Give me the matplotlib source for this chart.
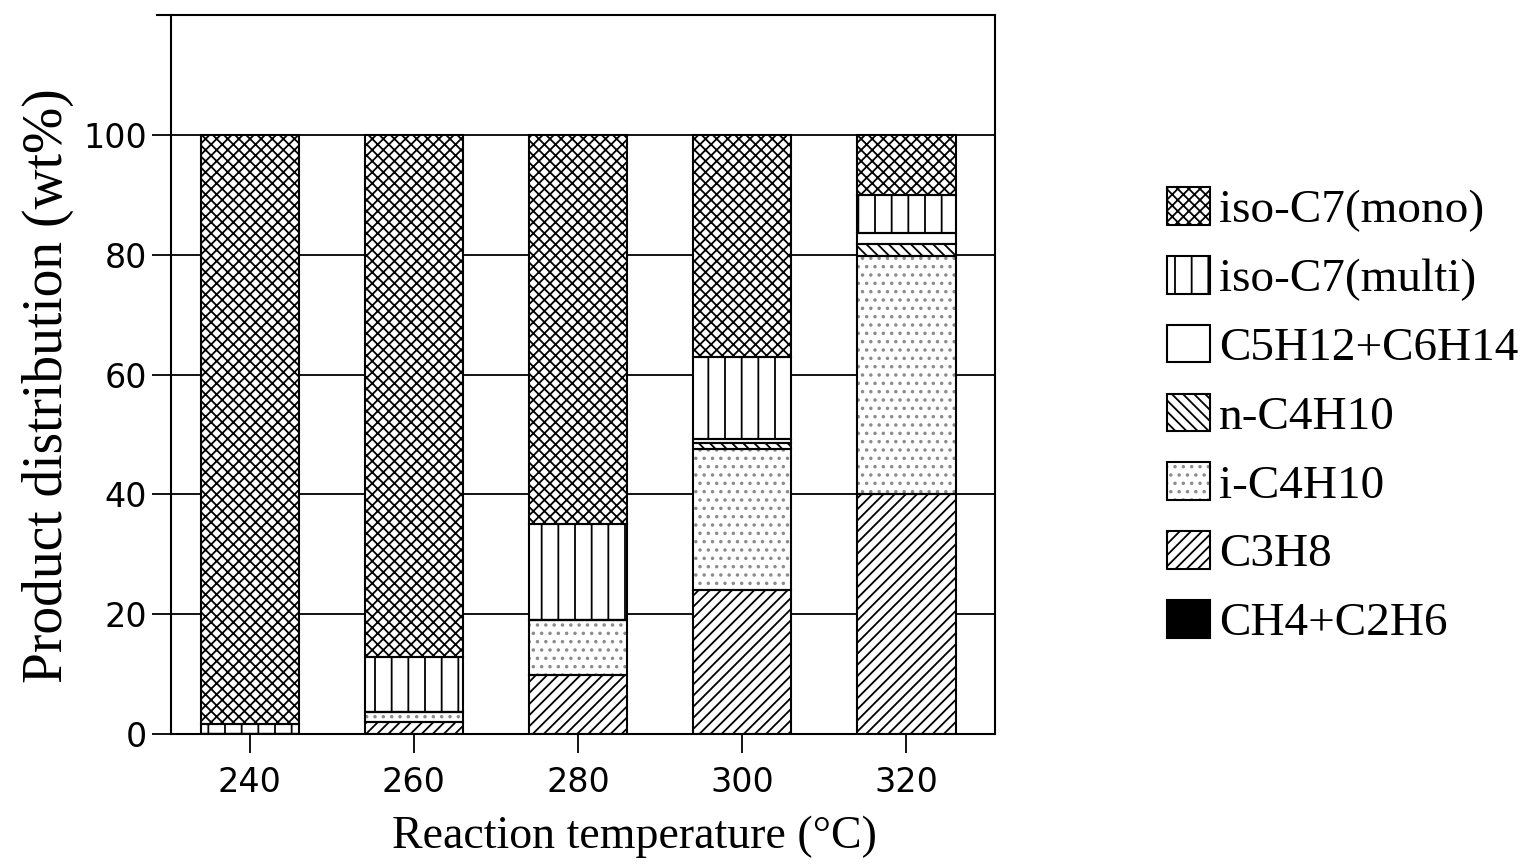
import numpy as np
import matplotlib
matplotlib.use("Agg")
import matplotlib.pyplot as plt
from matplotlib.lines import Line2D
from matplotlib.legend_handler import HandlerTuple

# data (wt%), bottom of stack first
temps = ["240", "260", "280", "300", "320"]
ch4_c2h6 = [0, 0, 0, 0, 0]
c3h8 = [0, 2.0, 9.8, 24.0, 40.0]
i_c4h10 = [0, 1.7, 9.2, 23.5, 39.8]
n_c4h10 = [0, 0, 0, 1.0, 2.0]
c5_c6 = [0, 0, 0, 0.7, 1.8]
iso_c7_multi = [1.6, 9.2, 16.0, 13.7, 6.3]
iso_c7_mono = [98.4, 87.1, 65.0, 37.1, 10.1]

# name, values, fill, hatch, hatch colour
series = [
    ("CH4+C2H6", ch4_c2h6, "black", "", "black"),
    ("C3H8", c3h8, "white", "///", "black"),
    ("i-C4H10", i_c4h10, "white", "..", "0.55"),
    ("n-C4H10", n_c4h10, "white", "\\\\\\", "black"),
    ("C5H12+C6H14", c5_c6, "white", "", "black"),
    ("iso-C7(multi)", iso_c7_multi, "white", "|", "black"),
    ("iso-C7(mono)", iso_c7_mono, "white", "xxx", "black"),
]

plt.rcParams["hatch.linewidth"] = 1.3
serif = "Liberation Serif"
sans = "DejaVu Sans"

fig = plt.figure(figsize=(15.32, 8.67), dpi=100)
ax = fig.add_axes([0.1116, 0.1534, 0.5379, 0.8293])

x = np.arange(len(temps))
bottom = np.zeros(len(temps))
handles = []
for name, vals, fc, hatch, hc in series:
    vals = np.array(vals, dtype=float)
    # hatch layer first, then a black outline on top
    b1 = ax.bar(x, vals, 0.6, bottom=bottom, color=fc, edgecolor=hc,
                hatch=hatch, linewidth=0, zorder=3)
    b2 = ax.bar(x, vals, 0.6, bottom=bottom, fill=False, edgecolor="black",
                linewidth=1.5, zorder=4)
    bottom += vals
    handles.append((b1, b2))

ax.set_xlim(-0.48, 4.54)
ax.set_ylim(0, 120)
ax.set_yticks([0, 20, 40, 60, 80, 100])
ax.set_xticks(x)
ax.set_xticklabels(temps)
ax.yaxis.grid(True, color="black", linewidth=1.3, zorder=0)
ax.set_axisbelow(True)

ax.tick_params(axis="both", direction="out", length=14, width=1.3,
               labelsize=24)
ax.tick_params(axis="x", pad=9)
ax.tick_params(axis="y", pad=3)
for lbl in ax.get_xticklabels() + ax.get_yticklabels():
    lbl.set_fontfamily(sans)

for sp in ax.spines.values():
    sp.set_linewidth(1.5)
ax.spines["top"].set_visible(False)
# top border reaches past the left axis line, like the original
ax.add_line(Line2D([-0.017, 1], [1, 1], transform=ax.transAxes,
                   color="black", linewidth=1.5, clip_on=False))

ax.set_xlabel("Reaction temperature (°C)", fontsize=33, family=serif)
ax.xaxis.set_label_coords(0.563, -0.113)
ax.set_ylabel("Product distribution (wt%)", fontsize=40, family=serif)
ax.yaxis.set_label_coords(-0.118, 0.485)

leg = fig.legend(handles[::-1], [s[0] for s in series][::-1],
                 handler_map={tuple: HandlerTuple(ndivide=1, pad=0)},
                 loc="center left", bbox_to_anchor=(0.762, 0.52),
                 frameon=False, prop={"family": serif, "size": 34},
                 handlelength=0.9, handleheight=0.85, handletextpad=0.2,
                 labelspacing=0.5, borderaxespad=0, borderpad=0)

fig.savefig("out.png", dpi=100, facecolor="white")
